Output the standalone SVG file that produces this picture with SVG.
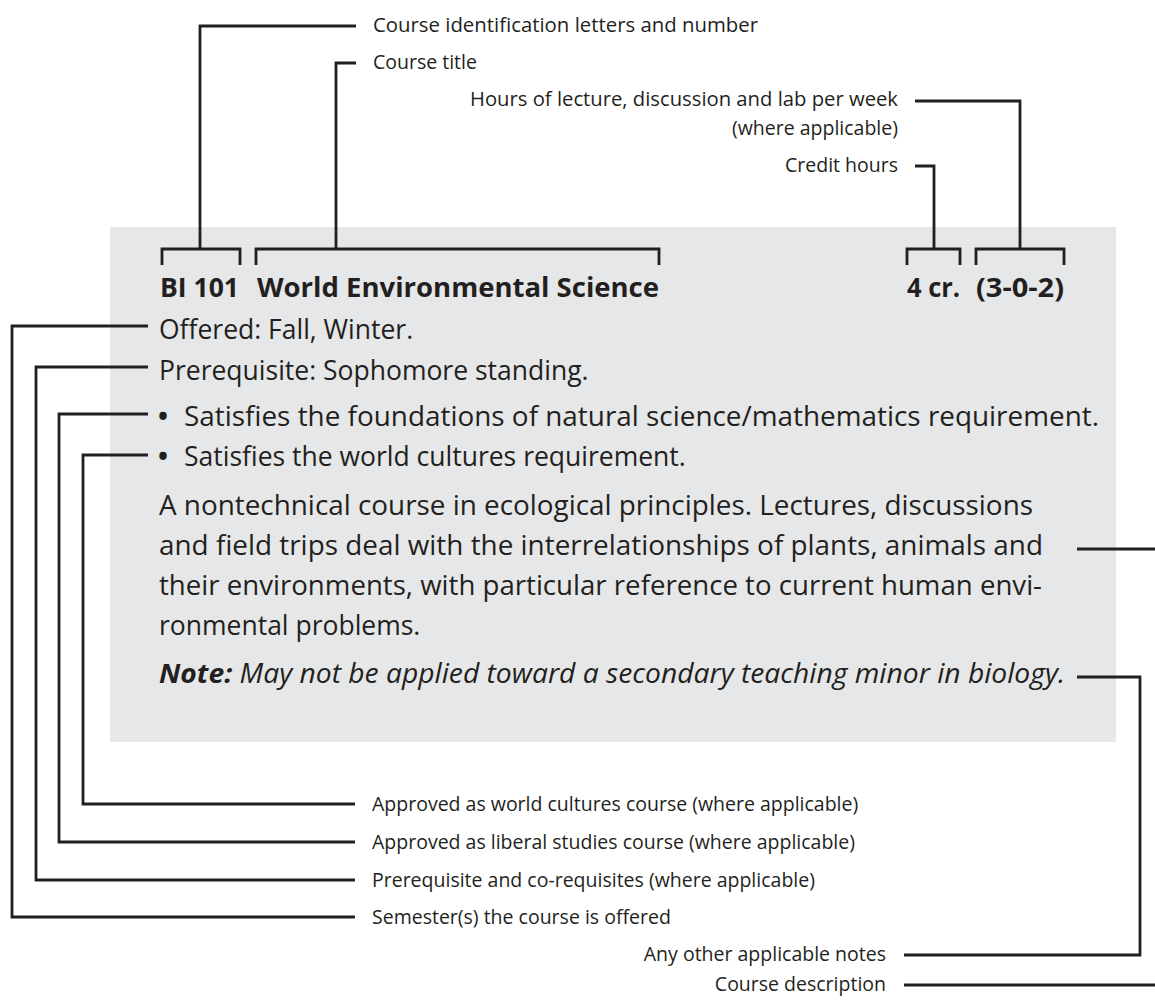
<svg xmlns="http://www.w3.org/2000/svg" width="1155" height="1003" viewBox="0 0 1155 1003">
<style>
  .bg { fill: #ffffff; }
  .panel { fill: #e6e7e8; }
  .lead { fill: none; stroke: #231f20; stroke-width: 2.8; stroke-linejoin: miter; stroke-linecap: butt; }
  .main { font-family: "Open Sans", "Noto Sans", "Liberation Sans", sans-serif; font-size: 26.5px; fill: #231f20; }
  .bold { font-weight: bold; }
  .ital { font-style: italic; }
  .lab { font-family: "Open Sans", "Noto Sans", "Liberation Sans", sans-serif; font-size: 19.5px; fill: #231f20; }
  .end { text-anchor: end; }
</style>
<rect class="bg" x="0" y="0" width="1155" height="1003"/>
<g id="entry-panel">
  <rect class="panel" x="110" y="227" width="1006" height="515"/>
</g>
<g id="entry-text">
  <text class="main bold" x="160" y="297" textLength="79" lengthAdjust="spacingAndGlyphs">BI 101</text>
  <text class="main bold" x="257" y="297" textLength="402" lengthAdjust="spacingAndGlyphs">World Environmental Science</text>
  <text class="main bold" x="907" y="297" textLength="53" lengthAdjust="spacingAndGlyphs">4 cr.</text>
  <text class="main bold" x="976" y="297" textLength="88" lengthAdjust="spacingAndGlyphs">(3-0-2)</text>
  <text class="main" x="159" y="339">Offered: Fall, Winter.</text>
  <text class="main" x="159" y="380">Prerequisite: Sophomore standing.</text>
  <text class="main" y="426"><tspan class="bold" x="158">•</tspan><tspan x="184" textLength="915" lengthAdjust="spacingAndGlyphs">Satisfies the foundations of natural science/mathematics requirement.</tspan></text>
  <text class="main" y="466"><tspan class="bold" x="158">•</tspan><tspan x="184">Satisfies the world cultures requirement.</tspan></text>
  <text class="main" x="159" y="515" textLength="874" lengthAdjust="spacingAndGlyphs">A nontechnical course in ecological principles. Lectures, discussions</text>
  <text class="main" x="159" y="555" textLength="884" lengthAdjust="spacingAndGlyphs">and field trips deal with the interrelationships of plants, animals and</text>
  <text class="main" x="159" y="595" textLength="883" lengthAdjust="spacingAndGlyphs">their environments, with particular reference to current human envi-</text>
  <text class="main" x="159" y="635">ronmental problems.</text>
  <text class="main ital" x="159" y="683" textLength="906" lengthAdjust="spacingAndGlyphs"><tspan class="bold">Note:</tspan> May not be applied toward a secondary teaching minor in biology.</text>
</g>
<g id="connectors">
  <path class="lead" d="M162,265 V249 H240 V265 M200,249 V26 H356"/>
  <path class="lead" d="M256,265 V249 H659 V265 M336,249 V63 H356"/>
  <path class="lead" d="M907,265 V249 H960 V265 M934,249 V166 H915"/>
  <path class="lead" d="M976,265 V249 H1064 V265 M1020,249 V101 H915"/>
  <path class="lead" d="M148,326 H12 V917 H355"/>
  <path class="lead" d="M148,367 H36 V880 H355"/>
  <path class="lead" d="M148,414 H59 V842 H355"/>
  <path class="lead" d="M148,455 H83 V804 H355"/>
  <path class="lead" d="M1077,549 H1155"/>
  <path class="lead" d="M1077,677 H1140 V955 H904"/>
  <path class="lead" d="M904,985 H1155"/>
</g>
<g id="label-course-id"><text class="lab" x="373" y="32" textLength="385" lengthAdjust="spacingAndGlyphs">Course identification letters and number</text></g>
<g id="label-course-title"><text class="lab" x="373" y="69">Course title</text></g>
<g id="label-hours"><text class="lab end" x="898" y="106" textLength="428" lengthAdjust="spacingAndGlyphs">Hours of lecture, discussion and lab per week</text><text class="lab end" x="898" y="135">(where applicable)</text></g>
<g id="label-credit"><text class="lab end" x="898" y="172">Credit hours</text></g>
<g id="label-world"><text class="lab" x="372" y="811">Approved as world cultures course (where applicable)</text></g>
<g id="label-liberal"><text class="lab" x="372" y="849">Approved as liberal studies course (where applicable)</text></g>
<g id="label-prereq"><text class="lab" x="372" y="887">Prerequisite and co-requisites (where applicable)</text></g>
<g id="label-semester"><text class="lab" x="372" y="924">Semester(s) the course is offered</text></g>
<g id="label-notes"><text class="lab end" x="886" y="961">Any other applicable notes</text></g>
<g id="label-description"><text class="lab end" x="886" y="991">Course description</text></g>
</svg>
